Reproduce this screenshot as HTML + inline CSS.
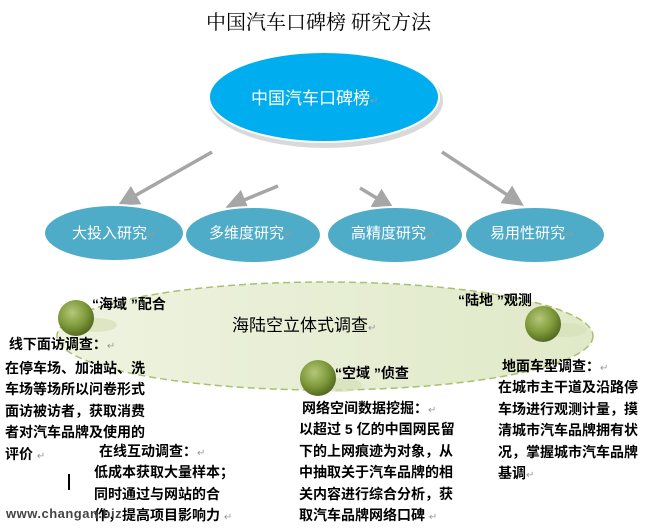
<!DOCTYPE html>
<html><head><meta charset="utf-8"><style>
body{margin:0;width:649px;height:528px;background:#fff;position:relative;overflow:hidden;font-family:"Liberation Sans","Noto Sans CJK SC","WenQuanYi Zen Hei",sans-serif}
.t{position:absolute;white-space:nowrap;color:#000}
.b{font-weight:bold;font-size:14px;line-height:21.5px}
.m{color:#999;font-weight:normal;font-size:10px}
</style></head><body>
<svg width="649" height="528" style="position:absolute;left:0;top:0">
<defs>
<radialGradient id="ball" cx="40%" cy="35%" r="65%"><stop offset="0" stop-color="#b5c77a"/><stop offset="0.6" stop-color="#7f9a3a"/><stop offset="1" stop-color="#566b22"/></radialGradient>
<linearGradient id="pale" x1="0" y1="0" x2="1" y2="0"><stop offset="0" stop-color="#eef3e0"/><stop offset="1" stop-color="#e0e9c8"/></linearGradient>
<marker id="ar" markerWidth="6" markerHeight="6" refX="4" refY="3" orient="auto"><path d="M0,0 L6,3 L0,6 z" fill="#a6a6a6"/></marker>
</defs>
<ellipse cx="325" cy="336" rx="268" ry="54" fill="url(#pale)" stroke="#a9c070" stroke-width="1.5" stroke-dasharray="7,4"/>
<g stroke="#a6a6a6" stroke-width="3.5" marker-end="url(#ar)">
<line x1="212" y1="152" x2="124" y2="202"/>
<line x1="278" y1="186" x2="232" y2="205"/>
<line x1="360" y1="188" x2="388" y2="205"/>
<line x1="442" y1="152" x2="518" y2="202"/>
</g>
<ellipse cx="326" cy="101" rx="117" ry="47" fill="#d9d9d9"/>
<ellipse cx="324" cy="97" rx="115" ry="45" fill="#00aeef" stroke="#fff" stroke-width="2"/>
<g fill="#4eacc8" stroke="#fff" stroke-width="2">
<ellipse cx="114" cy="233" rx="70" ry="28"/>
<ellipse cx="253" cy="235" rx="68" ry="28"/>
<ellipse cx="395" cy="235" rx="68" ry="28"/>
<ellipse cx="535" cy="235" rx="70" ry="28"/>
</g>
<ellipse cx="95" cy="325" rx="22" ry="7" fill="#d6e0b8" opacity="0.7"/>
<ellipse cx="340" cy="385" rx="22" ry="7" fill="#d6e0b8" opacity="0.7"/>
<ellipse cx="565" cy="330" rx="22" ry="7" fill="#d6e0b8" opacity="0.7"/>
<circle cx="76" cy="318" r="18" fill="url(#ball)"/>
<circle cx="318" cy="378" r="18" fill="url(#ball)"/>
<circle cx="543" cy="324" r="18" fill="url(#ball)"/>
<line x1="69" y1="474" x2="69" y2="490" stroke="#000" stroke-width="2"/>
</svg>
<div class="t" style="left:206px;top:6px;font-size:20px;font-family:'Liberation Serif','Noto Serif CJK SC',serif">中国汽车口碑榜 研究方法</div>
<div class="t" style="left:251px;top:84px;font-size:17px;color:#fff">中国汽车口碑榜<span class="m">↵</span></div>
<div class="t" style="left:72px;top:222px;font-size:15px;color:#fff">大投入研究<span class="m">↵</span></div>
<div class="t" style="left:209px;top:222px;font-size:15px;color:#fff">多维度研究<span class="m">↵</span></div>
<div class="t" style="left:351px;top:222px;font-size:15px;color:#fff">高精度研究<span class="m">↵</span></div>
<div class="t" style="left:490px;top:222px;font-size:15px;color:#fff">易用性研究<span class="m">↵</span></div>
<div class="t" style="left:232px;top:311px;font-size:17px">海陆空立体式调查<span class="m">↵</span></div>
<div class="t b" style="left:92px;top:294px">“海域 ”配合</div>
<div class="t b" style="left:458px;top:290px">“陆地 ”观测</div>
<div class="t b" style="left:335px;top:363px">“空域 ”侦查</div>
<div class="t b" style="left:5px;top:334px">&nbsp;线下面访调查：<span class="m">↵</span><br>在停车场、加油站、洗<br>车场等场所以问卷形式<br>面访被访者，获取消费<br>者对汽车品牌及使用的<br>评价 <span class="m">↵</span></div>
<div class="t b" style="left:99px;top:441px">在线互动调查：<span class="m">↵</span></div>
<div class="t b" style="left:94px;top:462px">低成本获取大量样本；<br>同时通过与网站的合<br>作，提高项目影响力 <span class="m">↵</span></div>
<div class="t" style="left:6px;top:506px;font-size:13px;font-weight:bold;color:#444;letter-spacing:0.5px">www.changan.biz</div>
<div class="t b" style="left:302px;top:398px">网络空间数据挖掘：<span class="m">↵</span></div>
<div class="t b" style="left:299px;top:419px">以超过 5 亿的中国网民留<br>下的上网痕迹为对象，从<br>中抽取关于汽车品牌的相<br>关内容进行综合分析，获<br>取汽车品牌网络口碑 <span class="m">↵</span></div>
<div class="t b" style="left:502px;top:356px">地面车型调查：<span class="m">↵</span></div>
<div class="t b" style="left:498px;top:377px">在城市主干道及沿路停<br>车场进行观测计量，摸<br>清城市汽车品牌拥有状<br>况，掌握城市汽车品牌<br>基调<span class="m">↵</span></div>
</body></html>
